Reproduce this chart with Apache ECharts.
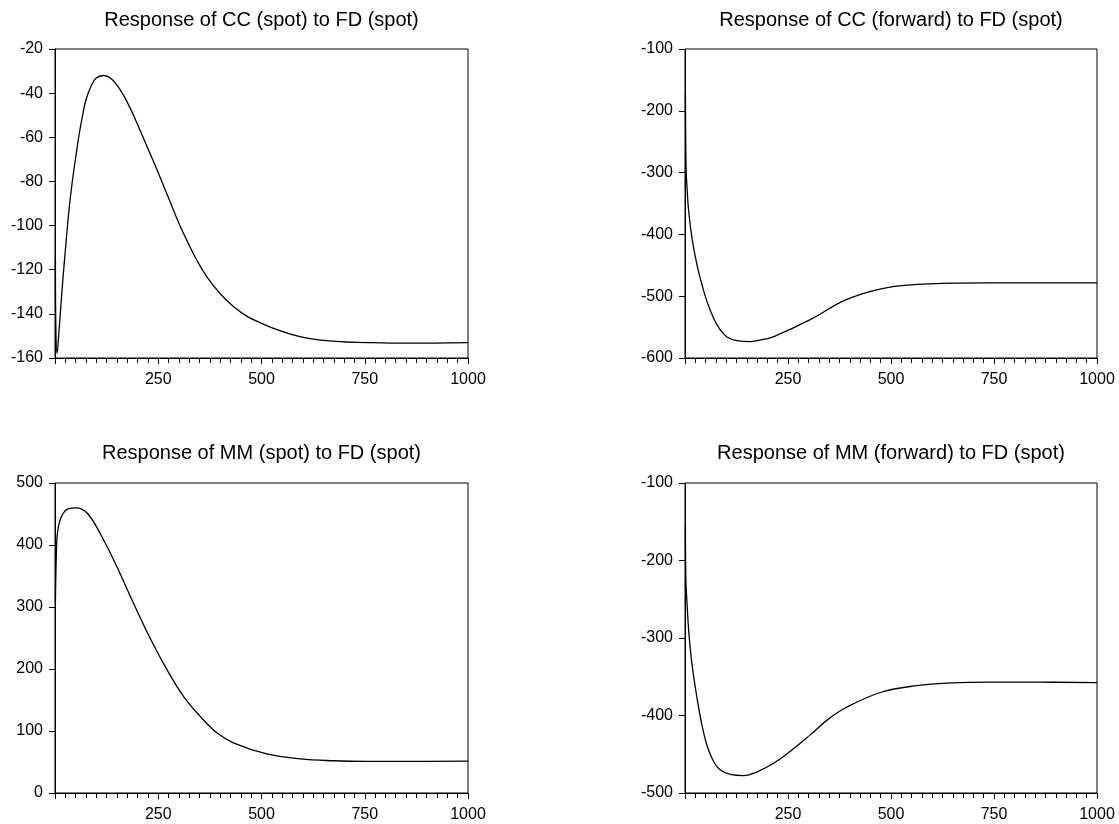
<!DOCTYPE html>
<html>
<head>
    <meta charset="utf-8">
    <title>Impulse responses</title>
    <script src="https://cdn.jsdelivr.net/npm/echarts@6/dist/echarts.min.js"></script>
    <style>
        html, body { margin: 0; padding: 0; background: #fff; }
    </style>
</head>
<body>
    <div id="main" style="width: 1119px;height:824px;"></div>
    <script type="text/javascript">
        var titles = [
            'Response of CC (spot) to FD (spot)',
            'Response of CC (forward) to FD (spot)',
            'Response of MM (spot) to FD (spot)',
            'Response of MM (forward) to FD (spot)'
        ];

        // x tick labels (period)
        var xTicks = [250, 500, 750, 1000];

        // [period, response]
        var ccSpot = [
            [1, -116], [2, -145], [5, -158], [10, -147], [18, -127], [27, -107],
            [35, -91], [43, -78.5], [51, -68], [59, -58], [67, -50], [75, -43],
            [87, -37], [99, -33.3], [118, -32], [135, -33.3], [156, -38], [180, -46],
            [204, -56], [228, -66.4], [252, -77], [276, -88], [311, -103.5],
            [367, -123], [432, -136.7], [500, -144.3], [593, -150.3], [680, -152.5],
            [755, -153], [850, -153.3], [1000, -153]
        ];
        var ccForward = [
            [1, -172], [2, -265], [3, -300], [5, -325], [9, -363], [17, -406],
            [29, -449], [41, -481], [53, -508], [69, -535], [85, -554], [102, -566],
            [126, -572], [158, -573.5], [190, -570], [217, -565], [304, -538],
            [390, -506], [476, -488], [563, -481], [649, -479],
            [735, -478.5], [850, -478.5], [1000, -478.5]
        ];
        var mmSpot = [
            [1, 308], [4, 403], [6.5, 422], [10, 435], [18, 449], [30, 458],
            [51, 460], [77, 452], [109, 419], [149, 366], [190, 306], [230, 250],
            [271, 199], [311, 156], [351, 124], [392, 97], [432, 81], [513, 63],
            [594, 55], [674, 52], [755, 51], [850, 51], [1000, 51.5]
        ];
        var mmForward = [
            [1, -153], [2, -222], [5, -256], [9, -291], [17, -334], [29, -377],
            [41, -412], [53, -438], [69, -459], [85, -470], [110, -476], [142, -477.5],
            [174, -473], [217, -461], [261, -444], [304, -425], [347, -405],
            [390, -390], [476, -370], [563, -361.5], [649, -358], [735, -357],
            [850, -357], [1000, -357.5]
        ];

        // y axis ranges: [min, max, interval]
        var yRanges = [
            [-160, -20, 20],
            [-600, -100, 100],
            [0, 500, 100],
            [-500, -100, 100]
        ];

        var seriesData = [ccSpot, ccForward, mmSpot, mmForward];

        var font = 'Liberation Sans, Arial, sans-serif';
        var boxes = [
            { left: 55, top: 49, width: 413, height: 309 },
            { left: 685, top: 49, width: 412, height: 309 },
            { left: 55, top: 483, width: 413, height: 310 },
            { left: 685, top: 483, width: 412, height: 310 }
        ];
        var titleTops = [10, 10, 443, 443];

        var option = {
            animation: false,
            backgroundColor: '#fff',
            title: [],
            grid: [],
            xAxis: [],
            yAxis: [],
            series: []
        };

        boxes.forEach(function (b, i) {
            option.title.push({
                text: titles[i],
                left: b.left + b.width / 2,
                top: titleTops[i],
                padding: 0,
                textAlign: 'center',
                textStyle: { fontSize: 20, fontWeight: 'normal', color: '#000', fontFamily: font }
            });
            option.grid.push({
                left: b.left, top: b.top, width: b.width, height: b.height,
                show: true, borderColor: '#000', borderWidth: 1,
                backgroundColor: 'transparent', containLabel: false
            });
            option.xAxis.push({
                type: 'value',
                gridIndex: i,
                min: 0,
                max: 1000,
                interval: 250,
                axisLine: { show: true, onZero: false, lineStyle: { color: '#000', width: 1 } },
                axisTick: { show: true, length: 6, lineStyle: { color: '#000' } },
                minorTick: { show: true, splitNumber: 10, length: 5, lineStyle: { color: '#000' } },
                splitLine: { show: false },
                axisLabel: {
                    color: '#000', fontSize: 16, fontFamily: font, margin: 14,
                    formatter: function (v) { return xTicks.indexOf(v) >= 0 ? String(v) : ''; }
                }
            });
            option.yAxis.push({
                type: 'value',
                gridIndex: i,
                min: yRanges[i][0],
                max: yRanges[i][1],
                interval: yRanges[i][2],
                axisLine: { show: true, onZero: false, lineStyle: { color: '#000', width: 1 } },
                axisTick: { show: true, length: 6, lineStyle: { color: '#000' } },
                splitLine: { show: false },
                axisLabel: { color: '#000', fontSize: 16, fontFamily: font, margin: 12 }
            });
            option.series.push({
                type: 'line',
                xAxisIndex: i,
                yAxisIndex: i,
                data: seriesData[i],
                showSymbol: false,
                smooth: 0.4,
                lineStyle: { color: '#000', width: 1.3 },
                silent: true
            });
        });

        var myChart = echarts.init(document.getElementById('main'));
        myChart.setOption(option);
    </script>
</body>
</html>
